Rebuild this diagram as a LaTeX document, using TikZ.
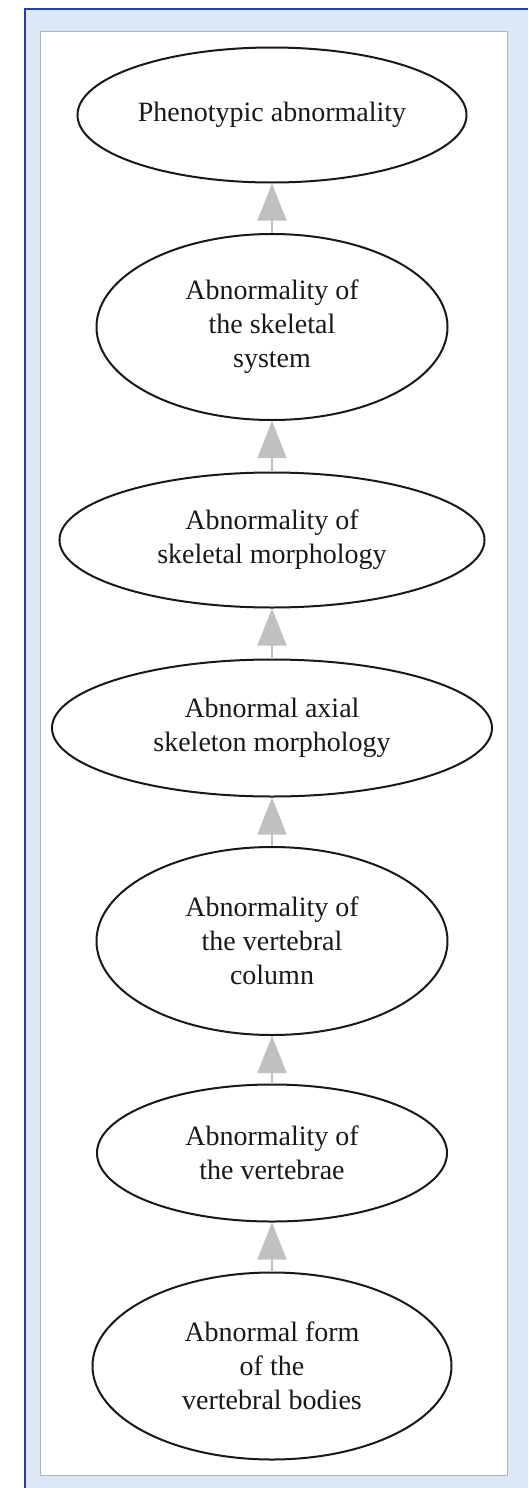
\documentclass[tikz,border=0pt]{standalone}
\usepackage{fontspec}
\setmainfont{Liberation Serif}
\usepackage{tikz}
\usetikzlibrary{shapes.geometric,arrows.meta}

\definecolor{frameblue}{RGB}{32,64,176}
\definecolor{bandblue}{RGB}{221,232,246}
\definecolor{panelgrey}{RGB}{172,182,202}
\definecolor{edgegrey}{RGB}{192,192,192}

\tikzset{
  term/.style={draw=black!90, ellipse, line width=2pt, inner sep=0pt, align=center,
    font=\fontsize{28}{34}\selectfont, text=black!90},
  isa/.style={edgegrey, line width=1.2pt, -{Triangle[length=37pt,width=29pt]}}
}

\begin{document}
\begin{tikzpicture}[x=1pt,y=1pt,yscale=-1,xscale=1]
\useasboundingbox (0,0) rectangle (528,1488);

%Frame and panel
\fill[bandblue] (25,9) rectangle (528,1488);
\draw[frameblue, line width=2pt] (25,1488) -- (25,9) -- (528,9);
\draw[panelgrey, fill=white, line width=1pt] (40,32) rectangle (507,1475);

% Ellipse Nodes
\node[term, minimum width=389, minimum height=135] (pheno) at (272,115) {Phenotypic abnormality};
\node[term, minimum width=351, minimum height=186] (skelsys) at (272,327) {Abnormality of\\the skeletal\\system};
\node[term, minimum width=425, minimum height=135] (skelmorph) at (272,540) {Abnormality of\\skeletal morphology};
\node[term, minimum width=440, minimum height=137] (axial) at (272,728) {Abnormal axial\\skeleton morphology};
\node[term, minimum width=351, minimum height=188] (column) at (272,941) {Abnormality of\\the vertebral\\column};
\node[term, minimum width=350, minimum height=137] (vertebrae) at (272,1153) {Abnormality of\\the vertebrae};
\node[term, minimum width=359, minimum height=187] (bodies) at (272,1366) {Abnormal form\\of the\\vertebral bodies};

% Arrows
\draw[isa] (skelsys.north) -- (pheno.south);
\draw[isa] (skelmorph.north) -- (skelsys.south);
\draw[isa] (axial.north) -- (skelmorph.south);
\draw[isa] (column.north) -- (axial.south);
\draw[isa] (vertebrae.north) -- (column.south);
\draw[isa] (bodies.north) -- (vertebrae.south);

\end{tikzpicture}
\end{document}
